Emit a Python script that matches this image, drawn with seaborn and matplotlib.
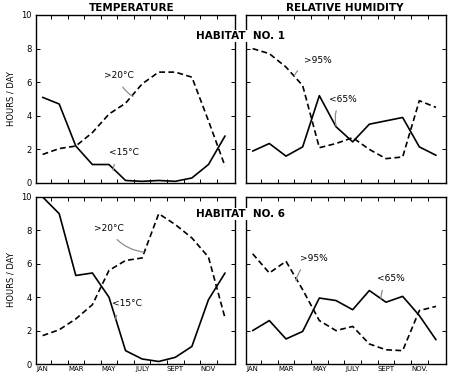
import numpy as np
import pandas as pd
import matplotlib
matplotlib.use('Agg')
import matplotlib.pyplot as plt
import seaborn as sns

months = list(range(1, 13))
month_labels = ['JAN', 'MAR', 'MAY', 'JULY', 'SEPT', 'NOV']
month_labels_rh = ['JAN', 'MAR', 'MAY', 'JULY', 'SEPT', 'NOV.']

# habitat 1
h1_below15 = [5.1, 4.7, 2.2, 1.1, 1.1, 0.15, 0.1, 0.15, 0.1, 0.3, 1.1, 2.8]
h1_above20 = [1.7, 2.05, 2.2, 3.0, 4.1, 4.75, 5.9, 6.6, 6.6, 6.3, 3.7, 1.0]
h1_above95 = [8.0, 7.7, 6.9, 5.8, 2.1, 2.35, 2.7, 2.0, 1.45, 1.55, 4.9, 4.5]
h1_below65 = [1.9, 2.35, 1.6, 2.15, 5.2, 3.35, 2.45, 3.5, 3.7, 3.9, 2.15, 1.65]

# habitat 6
h6_below15 = [10.0, 9.0, 5.3, 5.45, 4.0, 0.8, 0.3, 0.15, 0.4, 1.05, 3.85, 5.45]
h6_above20 = [1.7, 2.05, 2.7, 3.55, 5.6, 6.2, 6.35, 9.0, 8.35, 7.55, 6.4, 2.75]
h6_above95 = [6.6, 5.45, 6.15, 4.45, 2.6, 2.0, 2.25, 1.2, 0.85, 0.8, 3.2, 3.45]
h6_below65 = [2.0, 2.6, 1.5, 1.95, 3.95, 3.8, 3.25, 4.4, 3.7, 4.05, 2.9, 1.45]

sns.set_style('white')
plt.rcParams['font.family'] = ['DejaVu Sans']
plt.rcParams['text.color'] = 'black'
plt.rcParams['axes.labelcolor'] = 'black'
plt.rcParams['xtick.color'] = 'black'
plt.rcParams['ytick.color'] = 'black'

fig = plt.figure(figsize=(4.5, 3.77), dpi=100)
W, H = 450, 377


def make_ax(x0, x1, y0, y1):
    return fig.add_axes([x0 / W, 1 - y1 / H, (x1 - x0) / W, (y1 - y0) / H])


ax_tl = make_ax(36, 235, 15, 183)
ax_tr = make_ax(246, 446, 15, 183)
ax_bl = make_ax(36, 235, 197, 364)
ax_br = make_ax(246, 446, 197, 364)

panels = [
    (ax_tl, h1_below15, h1_above20, True, False),
    (ax_tr, h1_below65, h1_above95, False, False),
    (ax_bl, h6_below15, h6_above20, True, True),
    (ax_br, h6_below65, h6_above95, False, True),
]

for ax, solid, dashed, left, bottom in panels:
    sns.lineplot(x=months, y=solid, ax=ax, color='black', lw=1.2)
    sns.lineplot(x=months, y=dashed, ax=ax, color='black', lw=1.2, linestyle=(0, (3.5, 2)))
    ax.set_ylim(0, 10)
    ax.set_xlim(0.6, 12.6)
    for s in ax.spines.values():
        s.set_color('black')
        s.set_linewidth(1.0)
    ax.set_xticks([1, 3, 5, 7, 9, 11])
    ax.set_xticks(np.arange(1.5, 12.5, 1), minor=True)
    ax.set_yticks([0, 2, 4, 6, 8, 10])
    ax.tick_params(axis='x', which='major', length=0, labelsize=5, pad=1.5)
    ax.tick_params(axis='x', which='minor', direction='in', length=3, width=0.7,
                   top=True, bottom=True)
    ax.tick_params(axis='y', direction='in', length=3, width=0.7, left=True,
                   right=True, labelsize=6, pad=3)
    if bottom:
        ax.set_xticklabels(month_labels if left else month_labels_rh)
    else:
        ax.set_xticklabels([])
    if not left:
        ax.set_yticklabels([])

# y labels placed by hand so they stay inside the figure
fig.text(11 / W, 1 - 99 / H, 'HOURS / DAY', rotation=90, ha='center', va='center',
         fontsize=6)
fig.text(11 / W, 1 - 280 / H, 'HOURS / DAY', rotation=90, ha='center', va='center',
         fontsize=6)

fig.text(132 / W, 1 - 8 / H, 'TEMPERATURE', ha='center', va='center',
         fontsize=7.5, fontweight='bold')
fig.text(345 / W, 1 - 8 / H, 'RELATIVE HUMIDITY', ha='center', va='center',
         fontsize=7.5, fontweight='bold')
fig.text(240 / W, 1 - 36 / H, 'HABITAT  NO. 1', ha='center', va='center',
         fontsize=7.5, fontweight='bold',
         bbox=dict(facecolor='white', edgecolor='none', pad=1))
fig.text(240 / W, 1 - 214 / H, 'HABITAT  NO. 6', ha='center', va='center',
         fontsize=7.5, fontweight='bold',
         bbox=dict(facecolor='white', edgecolor='none', pad=1))

lead = dict(arrowstyle='-', color='0.55', lw=0.9, connectionstyle='arc3,rad=0.25',
            shrinkA=3, shrinkB=0)

ax_tl.annotate('>20°C', xy=(6.45, 5.15), xytext=(5.6, 6.4), fontsize=6.5,
               ha='center', va='center', arrowprops=lead)
ax_tl.annotate('<15°C', xy=(5.25, 0.75), xytext=(5.9, 1.8), fontsize=6.5,
               ha='center', va='center', arrowprops=lead)
ax_tr.annotate('>95%', xy=(3.5, 6.4), xytext=(4.9, 7.3), fontsize=6.5,
               ha='center', va='center', arrowprops=lead)
ax_tr.annotate('<65%', xy=(6.0, 3.4), xytext=(6.4, 5.0), fontsize=6.5,
               ha='center', va='center', arrowprops=lead)
ax_bl.annotate('>20°C', xy=(7.1, 6.7), xytext=(5.0, 8.1), fontsize=6.5,
               ha='center', va='center', arrowprops=lead)
ax_bl.annotate('<15°C', xy=(5.4, 2.7), xytext=(6.1, 3.6), fontsize=6.5,
               ha='center', va='center', arrowprops=lead)
ax_br.annotate('>95%', xy=(3.6, 5.0), xytext=(4.7, 6.3), fontsize=6.5,
               ha='center', va='center', arrowprops=lead)
ax_br.annotate('<65%', xy=(8.7, 3.9), xytext=(9.3, 5.1), fontsize=6.5,
               ha='center', va='center', arrowprops=lead)

fig.savefig('out.png', dpi=100)
